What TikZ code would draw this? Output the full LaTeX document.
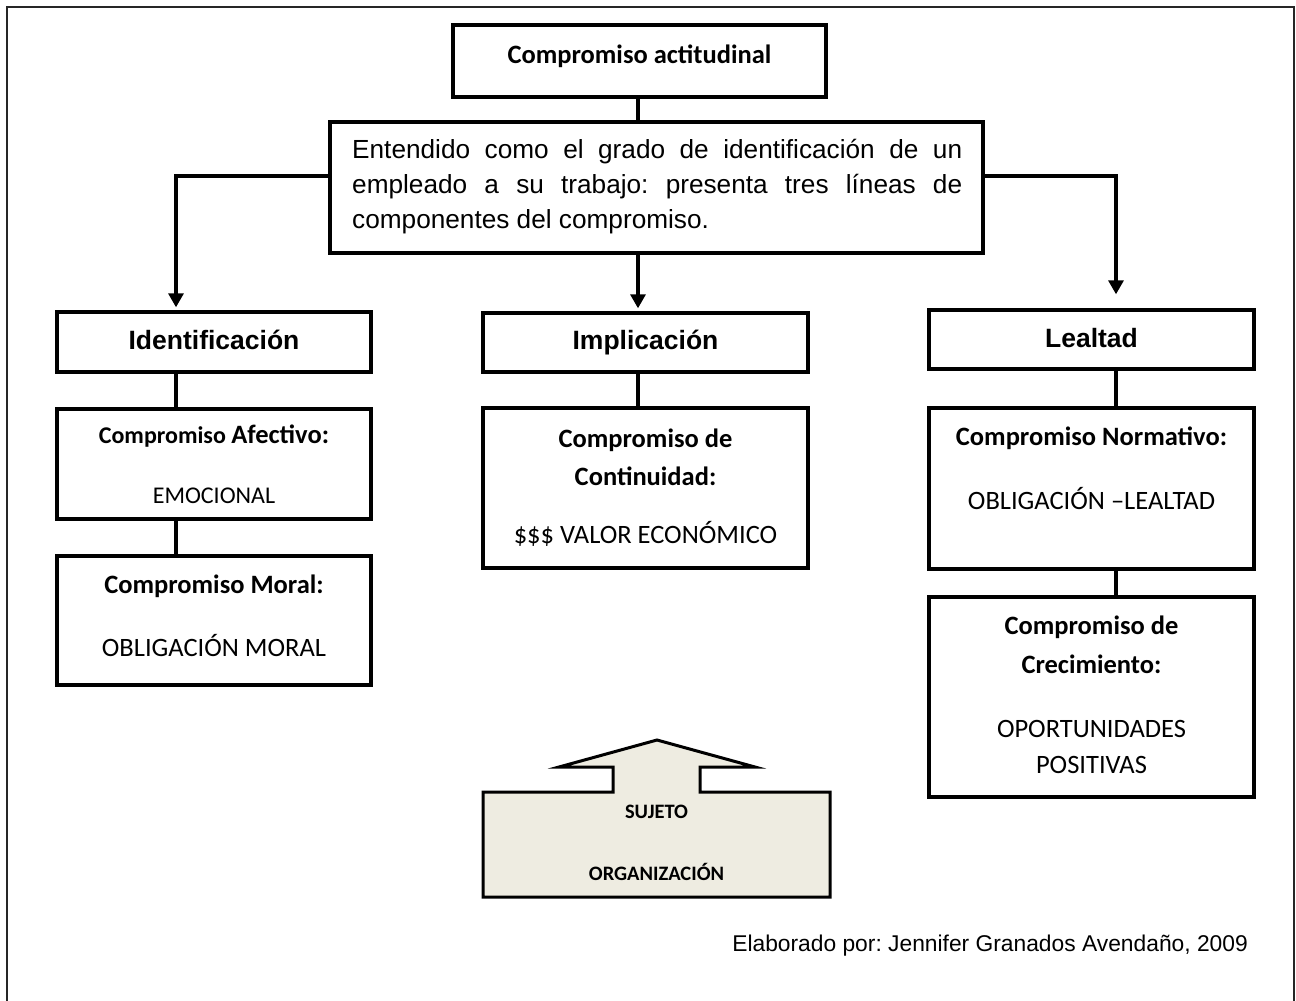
\documentclass[tikz,border=0pt]{standalone}
\usepackage{fontspec}
\setmainfont{Carlito}
\newfontfamily\arialf{Liberation Sans}
\usetikzlibrary{arrows.meta}
\definecolor{callfill}{HTML}{EEECE1}
\frenchspacing

\begin{document}
\begin{tikzpicture}[x=1pt,y=-1pt,
  box/.style={draw, line width=3.4pt, rectangle, inner sep=0pt, fill=white},
  link/.style={line width=3.2pt},
  arrowlink/.style={line width=3.2pt, -{Triangle[length=14pt,width=15pt]}},
  txt/.style={inner sep=0pt, anchor=base, font=\fontsize{26.5}{32}\selectfont},
  btxt/.style={txt, font=\fontsize{26.5}{32}\selectfont\bfseries},
  head/.style={txt, font=\arialf\fontsize{26.5}{32}\selectfont\bfseries},
  body/.style={inner sep=0pt, anchor=base west, font=\arialf\fontsize{26.2}{32}\selectfont},
]
% page and frame
\path[use as bounding box, fill=white] (0,0) rectangle (1296,1001);
\draw[line width=2.4pt, black!85] (7,1003) -- (7,7) -- (1294,7) -- (1294,1003);

% boxes: \node at centre with outer path size
\newcommand\mkbox[5]{%
  \pgfmathsetmacro\bw{#4-#2}\pgfmathsetmacro\bh{#5-#3}%
  \node[box, minimum width=\bw pt, minimum height=\bh pt] (#1) at ({(#2+#4)/2},{(#3+#5)/2}) {};}

\mkbox{top}{453}{25}{826}{97}
\mkbox{mid}{330}{122}{983}{253}
\mkbox{ident}{57}{312}{371}{372}
\mkbox{impl}{483}{313}{808}{372}
\mkbox{leal}{929}{310}{1254}{369}
\mkbox{afect}{57}{409}{371}{519}
\mkbox{moral}{57}{556}{371}{685}
\mkbox{contin}{483}{408}{808}{568}
\mkbox{norm}{929}{408}{1254}{569}
\mkbox{crec}{929}{597}{1254}{797}

% corners of the branching connectors
\coordinate (lcorner) at (176,176);
\coordinate (rcorner) at (1116,176);
\coordinate (cline) at (638,0);

% connectors
\draw[link] (cline |- top.south) -- (cline |- mid.north);
\draw[arrowlink, shorten >=3pt] (mid.west |- lcorner) -- (lcorner) -- (lcorner |- ident.north);
\draw[arrowlink, shorten >=3pt] (cline |- mid.south) -- (cline |- impl.north);
\draw[arrowlink, shorten >=14pt] (mid.east |- rcorner) -- (rcorner) -- (rcorner |- leal.north);
\draw[link] (lcorner |- ident.south) -- (lcorner |- afect.north);
\draw[link] (lcorner |- afect.south) -- (lcorner |- moral.north);
\draw[link] (cline |- impl.south) -- (cline |- contin.north);
\draw[link] (rcorner |- leal.south) -- (rcorner |- norm.north);
\draw[link] (rcorner |- norm.south) -- (rcorner |- crec.north);

% titles
\node[btxt] (ttop) at (639.5,63) {Compromiso actitudinal};
\node[body] (m1) at (352,158) {\makebox[610pt][s]{Entendido como el grado de identificación de un}};
\node[body] (m2) at (352,193) {\makebox[610pt][s]{empleado a su trabajo: presenta tres líneas de}};
\node[body] (m3) at (352,228) {componentes del compromiso.};

\node[head] (tident) at (214,349) {Identificación};
\node[head] (timpl) at (645.5,349) {Implicación};
\node[head] (tleal) at (1091.5,347) {Lealtad};

% left column
\node[txt] (ta1) at (214,443) {\bfseries\fontsize{24}{30}\selectfont Compromiso \fontsize{26.5}{32}\selectfont Afectivo:};
\node[txt, font=\fontsize{24}{30}\selectfont] (ta2) at (214,503) {EMOCIONAL};
\node[btxt] (tm1) at (214,593) {Compromiso Moral:};
\node[txt] (tm2) at (214,656) {OBLIGACIÓN MORAL};

% middle column
\node[btxt] (tc1) at (645.5,447) {Compromiso de};
\node[btxt] (tc2) at (645.5,485) {Continuidad:};
\node[txt] (tc3) at (645.5,543) {\$\$\$ VALOR ECONÓMICO};

% right column
\node[btxt] (tn1) at (1091.5,445) {Compromiso Normativo:};
\node[txt] (tn2) at (1091.5,509) {OBLIGACIÓN –LEALTAD};
\node[btxt] (tg1) at (1091.5,634) {Compromiso de};
\node[btxt] (tg2) at (1091.5,673) {Crecimiento:};
\node[txt] (tg3) at (1091.5,737) {OPORTUNIDADES};
\node[txt] (tg4) at (1091.5,773) {POSITIVAS};

% upward block arrow: subject and organisation
\draw[line width=3pt, fill=callfill, line join=miter]
  (559,767) -- (657,740) -- (755,767) -- (700,767) -- (700,792) -- (830,792)
  -- (830,897) -- (483,897) -- (483,792) -- (613,792) -- (613,767) -- cycle;
\node[txt, font=\fontsize{20.5}{26}\selectfont\bfseries] (suj) at (656.5,818) {SUJETO};
\node[txt, font=\fontsize{20.5}{26}\selectfont\bfseries] (org) at (656.5,880) {ORGANIZACIÓN};

% credit line
\node[inner sep=0pt, anchor=base east, font=\arialf\fontsize{22.8}{28}\selectfont] (credit) at (1248,951)
  {Elaborado por: Jennifer Granados Avendaño, 2009};
\end{tikzpicture}
\end{document}
